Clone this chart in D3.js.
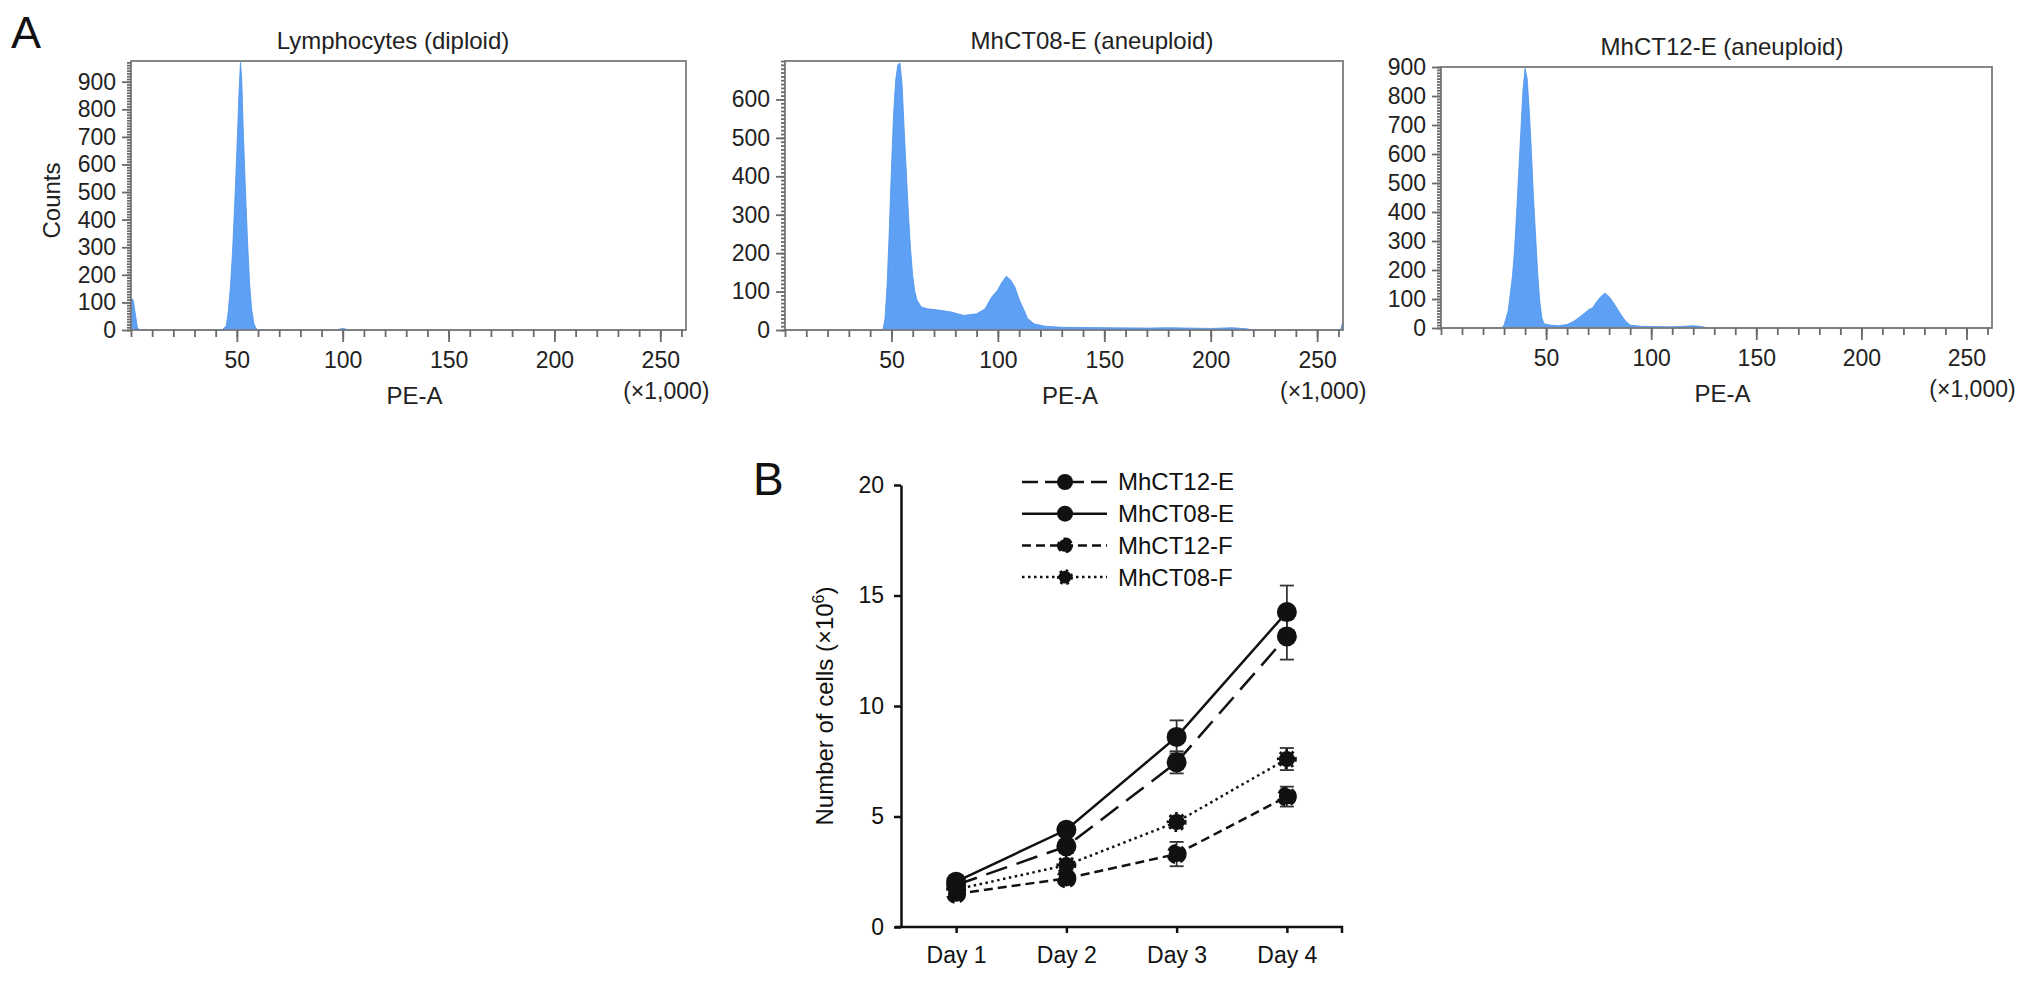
<!DOCTYPE html>
<html>
<head>
<meta charset="utf-8">
<script src="https://cdnjs.cloudflare.com/ajax/libs/d3/7.8.5/d3.min.js"></script>
<style>
	body {margin:0; background:#fff;}
	svg text {font-family:"Liberation Sans", Arial, Helvetica, sans-serif;}
</style>
</head>
<body>
<div id="idChart"></div>
<script>
// panel A: DNA content histograms (PE-A x1,000 vs counts)
var aHistTitles = ["Lymphocytes (diploid)", "MhCT08-E (aneuploid)", "MhCT12-E (aneuploid)"];

var aLymphocytes = [[0,115],[1,110],[2,60],[3,10],[4,0],[43,0],[45,15],[46,70],[47,160],[48,290],[49,460],[50,650],[51,860],[51.7,970],[52.3,910],[53,730],[54,520],[55,330],[56,170],[57,75],[58,25],[59,6],[60,0],[97,0],[100,6],[103,0],[262,0]];

var aMhCT08E = [[0,0],[46,0],[47,30],[48,120],[49,260],[50,420],[51,560],[52,650],[53,690],[54,695],[55,640],[56,520],[57,410],[58,300],[59,210],[60,140],[61,100],[62,78],[64,60],[67,55],[72,52],[78,47],[84,38],[90,42],[94,55],[97,85],[100,105],[102,125],[104,140],[106,130],[108,112],[110,80],[112,55],[114,30],[117,16],[122,10],[130,7],[150,6],[170,5],[180,6],[200,4],[210,6],[217,3],[220,0],[261,0],[262,20]];

var aMhCT12E = [[0,0],[29,0],[30,10],[32,60],[34,180],[35,270],[36,400],[37,540],[38,680],[39,820],[40,895],[41,860],[42,750],[43,610],[44,450],[45,320],[46,190],[47,90],[48,35],[49,15],[52,10],[56,8],[60,12],[63,22],[66,38],[69,55],[70.5,65],[72,68],[74,90],[76,108],[78,120],[80,108],[82,88],[84,65],[86,42],[88,22],[90,10],[95,6],[100,5],[110,4],[116,6],[120,8],[124,5],[127,0],[262,0]];

var aHistData = [aLymphocytes, aMhCT08E, aMhCT12E];
var aHistYMax = [975, 700, 900];
var aHistYTicks = [[0,100,200,300,400,500,600,700,800,900], [0,100,200,300,400,500,600], [0,100,200,300,400,500,600,700,800,900]];
var aPeTicks = [50, 100, 150, 200, 250];
var fPeMax = 262.144;

// panel B: growth curves, number of cells (x10^6), mean and SD
var aDays = ["Day 1", "Day 2", "Day 3", "Day 4"];
var aSeriesNames = ["MhCT12-E", "MhCT08-E", "MhCT12-F", "MhCT08-F"];
var aMeanMhCT12E = [1.9, 3.65, 7.45, 13.15];
var aMeanMhCT08E = [2.05, 4.4, 8.6, 14.25];
var aMeanMhCT12F = [1.5, 2.2, 3.3, 5.9];
var aMeanMhCT08F = [1.7, 2.8, 4.75, 7.6];
var aSdMhCT12E = [0.2, 0.3, 0.5, 1.05];
var aSdMhCT08E = [0.2, 0.3, 0.75, 1.2];
var aSdMhCT12F = [0.1, 0.2, 0.55, 0.45];
var aSdMhCT08F = [0.1, 0.2, 0.25, 0.5];
var aGrowthTicks = [0, 5, 10, 15, 20];

var iWidth = 2032;
var iHeight = 986;
var sFill = "#5ea1f4";
var sTick = "#6a6a6a";

var myCanvas = d3.select("#idChart").append("svg")
	.attr("width", iWidth)
	.attr("height", iHeight);

// layout of the three histogram frames
var aFrames = [
	{x0:131, x1:686, y0:61, y1:330, tx:393},
	{x0:785, x1:1343, y0:61, y1:330, tx:1092},
	{x0:1441, x1:1992, y0:67, y1:328, tx:1722}
];

myCanvas.append("text")
	.attr("x", 11).attr("y", 48)
	.attr("font-size", 45)
	.attr("fill", "#111")
	.text("A");

function DrawHistogram(i)
{
	var oFrame = aFrames[i];
	var myX = d3.scaleLinear().domain([0, fPeMax]).range([oFrame.x0, oFrame.x1]);
	var myY = d3.scaleLinear().domain([0, aHistYMax[i]]).range([oFrame.y1, oFrame.y0]);
	var myG = myCanvas.append("g");

	myG.append("path")
		.datum(aHistData[i])
		.attr("fill", sFill)
		.attr("stroke", "#4b92ee")
		.attr("stroke-width", 0.8)
		.attr("d", d3.area()
			.x(function(d) {return myX(d[0]);})
			.y0(myY(0))
			.y1(function(d) {return myY(d[1]);}));

	myG.append("rect")
		.attr("x", oFrame.x0)
		.attr("y", oFrame.y0)
		.attr("width", oFrame.x1 - oFrame.x0)
		.attr("height", oFrame.y1 - oFrame.y0)
		.attr("fill", "none")
		.attr("stroke", "#7a7a7a")
		.attr("stroke-width", 1.8);

	// minor ticks
	myG.append("g")
		.attr("transform", "translate(" + oFrame.x0 + ",0)")
		.call(d3.axisLeft(myY).tickValues(d3.range(0, aHistYMax[i] + 1, 10)).tickSize(4).tickFormat(""));
	myG.append("g")
		.attr("transform", "translate(0," + oFrame.y1 + ")")
		.call(d3.axisBottom(myX).tickValues(d3.range(0, 263, 10)).tickSize(7).tickFormat(""));

	// major ticks and labels
	myG.append("g")
		.attr("class", "HistAxis")
		.attr("transform", "translate(" + oFrame.x0 + ",0)")
		.call(d3.axisLeft(myY).tickValues(aHistYTicks[i]).tickSize(9).tickPadding(6).tickFormat(d3.format("d")));
	myG.append("g")
		.attr("class", "HistAxis")
		.attr("transform", "translate(0," + oFrame.y1 + ")")
		.call(d3.axisBottom(myX).tickValues(aPeTicks).tickSize(12).tickPadding(10).tickFormat(d3.format("d")));

	myG.selectAll(".domain").remove();
	myG.selectAll(".tick line").attr("stroke", sTick).attr("stroke-width", 1.8);
	myG.selectAll(".HistAxis text").attr("font-size", 23).attr("fill", "#222");

	myG.append("text")
		.attr("x", oFrame.tx).attr("y", oFrame.y0 - 12)
		.attr("text-anchor", "middle")
		.attr("font-size", 24)
		.attr("fill", "#222")
		.text(aHistTitles[i]);

	myG.append("text")
		.attr("x", (oFrame.x0 + oFrame.x1) / 2 + 6).attr("y", oFrame.y1 + 74)
		.attr("text-anchor", "middle")
		.attr("font-size", 24)
		.attr("fill", "#222")
		.text("PE-A");

	myG.append("text")
		.attr("x", myX(250) + 6).attr("y", oFrame.y1 + 69)
		.attr("text-anchor", "middle")
		.attr("font-size", 23)
		.attr("fill", "#222")
		.text("(\u00d71,000)");

	if(i == 0)
	{
		myG.append("text")
			.attr("transform", "translate(52," + ((oFrame.y0 + oFrame.y1) / 2 + 5) + ") rotate(-90)")
			.attr("text-anchor", "middle")
			.attr("dy", "0.35em")
			.attr("font-size", 24)
			.attr("fill", "#222")
			.text("Counts");
	}
}

DrawHistogram(0);
DrawHistogram(1);
DrawHistogram(2);

// panel B
var aMeans = [aMeanMhCT12E, aMeanMhCT08E, aMeanMhCT12F, aMeanMhCT08F];
var aSds = [aSdMhCT12E, aSdMhCT08E, aSdMhCT12F, aSdMhCT08F];
var aDash = ["22,10", null, "9,5", "2.5,3.5"];
var aRadius = [10, 10, 10, 10];

var myGrowthX = d3.scalePoint().domain(aDays).range([901, 1342]).padding(0.5);
var myGrowthY = d3.scaleLinear().domain([0, 20]).range([927, 485]);
var myB = myCanvas.append("g");

myCanvas.append("text")
	.attr("x", 753).attr("y", 495)
	.attr("font-size", 46)
	.attr("fill", "#111")
	.text("B");

var myYAxis = myB.append("g")
	.attr("transform", "translate(901,0)")
	.call(d3.axisLeft(myGrowthY).tickValues(aGrowthTicks).tickSize(7).tickSizeOuter(0).tickPadding(10));

var myXAxis = myB.append("g")
	.attr("transform", "translate(0,927)")
	.call(d3.axisBottom(myGrowthX).tickSize(6).tickSizeOuter(0).tickPadding(14));

myXAxis.select(".domain").remove();
myXAxis.append("path")
	.attr("d", "M" + (myGrowthX.range()[0] - 6) + ",0H" + myGrowthX.range()[1] + "V6")
	.attr("fill", "none")
	.attr("stroke", "#111");

myB.selectAll(".domain, .tick line, path").attr("stroke", "#111").attr("stroke-width", 2.5);
myB.selectAll(".tick text").attr("font-size", 23).attr("fill", "#111");

myB.append("text")
	.attr("transform", "translate(825,706) rotate(-90)")
	.attr("text-anchor", "middle")
	.attr("dy", "0.35em")
	.attr("font-size", 24)
	.attr("fill", "#111")
	.call(function(myText) {
		myText.append("tspan").text("Number of cells (\u00d710");
		myText.append("tspan").attr("dy", -9).attr("font-size", 16).text("6");
		myText.append("tspan").attr("dy", 9).text(")");
	});

var myLine = d3.line()
	.x(function(d, i) {return myGrowthX(aDays[i]);})
	.y(function(d) {return myGrowthY(d);});

aMeans.forEach(function(aValues, iSeries) {
	myB.append("path")
		.datum(aValues)
		.attr("fill", "none")
		.attr("stroke", "#111")
		.attr("stroke-width", 2.5)
		.attr("stroke-dasharray", aDash[iSeries])
		.attr("d", myLine);
});

aMeans.forEach(function(aValues, iSeries) {
	var myErr = myB.append("g")
		.selectAll("g")
		.data(aValues)
		.enter()
		.append("g")
			.attr("stroke", "#333")
			.attr("stroke-width", 1.8);

	myErr.append("line")
		.attr("x1", function(d, i) {return myGrowthX(aDays[i]);})
		.attr("x2", function(d, i) {return myGrowthX(aDays[i]);})
		.attr("y1", function(d, i) {return myGrowthY(d - aSds[iSeries][i]);})
		.attr("y2", function(d, i) {return myGrowthY(d + aSds[iSeries][i]);});

	[-1, 1].forEach(function(iSign) {
		myErr.append("line")
			.attr("x1", function(d, i) {return myGrowthX(aDays[i]) - 7;})
			.attr("x2", function(d, i) {return myGrowthX(aDays[i]) + 7;})
			.attr("y1", function(d, i) {return myGrowthY(d + iSign * aSds[iSeries][i]);})
			.attr("y2", function(d, i) {return myGrowthY(d + iSign * aSds[iSeries][i]);});
	});
});

function DrawMarker(mySel, iSeries, fScale)
{
	if(aDash[iSeries] && iSeries >= 2)
	{
		// dashed outline gives the ragged marker edge of the F lines
		mySel.attr("r", (aRadius[iSeries] - 2) * fScale)
			.attr("fill", "#111")
			.attr("stroke", "#111")
			.attr("stroke-width", 4 * fScale)
			.attr("stroke-dasharray", aDash[iSeries]);
	}
	else
	{
		mySel.attr("r", aRadius[iSeries] * fScale)
			.attr("fill", "#111");
	}
}

aMeans.forEach(function(aValues, iSeries) {
	myB.append("g")
		.selectAll("circle")
		.data(aValues)
		.enter()
		.append("circle")
			.attr("cx", function(d, i) {return myGrowthX(aDays[i]);})
			.attr("cy", function(d) {return myGrowthY(d);})
			.call(DrawMarker, iSeries, 1);
});

// legend
var myLegend = myB.append("g")
	.selectAll("g")
	.data(aSeriesNames)
	.enter()
	.append("g")
		.attr("transform", function(d, i) {return "translate(1022," + (482 + i * 31.7) + ")";});

myLegend.append("line")
	.attr("x1", 0).attr("x2", 85)
	.attr("stroke", "#111")
	.attr("stroke-width", 2.5)
	.attr("stroke-dasharray", function(d, i) {return aDash[i] == "22,10" ? "16,7" : aDash[i];});

myLegend.append("circle")
	.attr("cx", 43)
	.each(function(d, i) {d3.select(this).call(DrawMarker, i, 0.8);});

myLegend.append("text")
	.attr("x", 96)
	.attr("dy", "0.35em")
	.attr("font-size", 24)
	.attr("fill", "#111")
	.text(function(d) {return d;});
</script>
</body>
</html>
